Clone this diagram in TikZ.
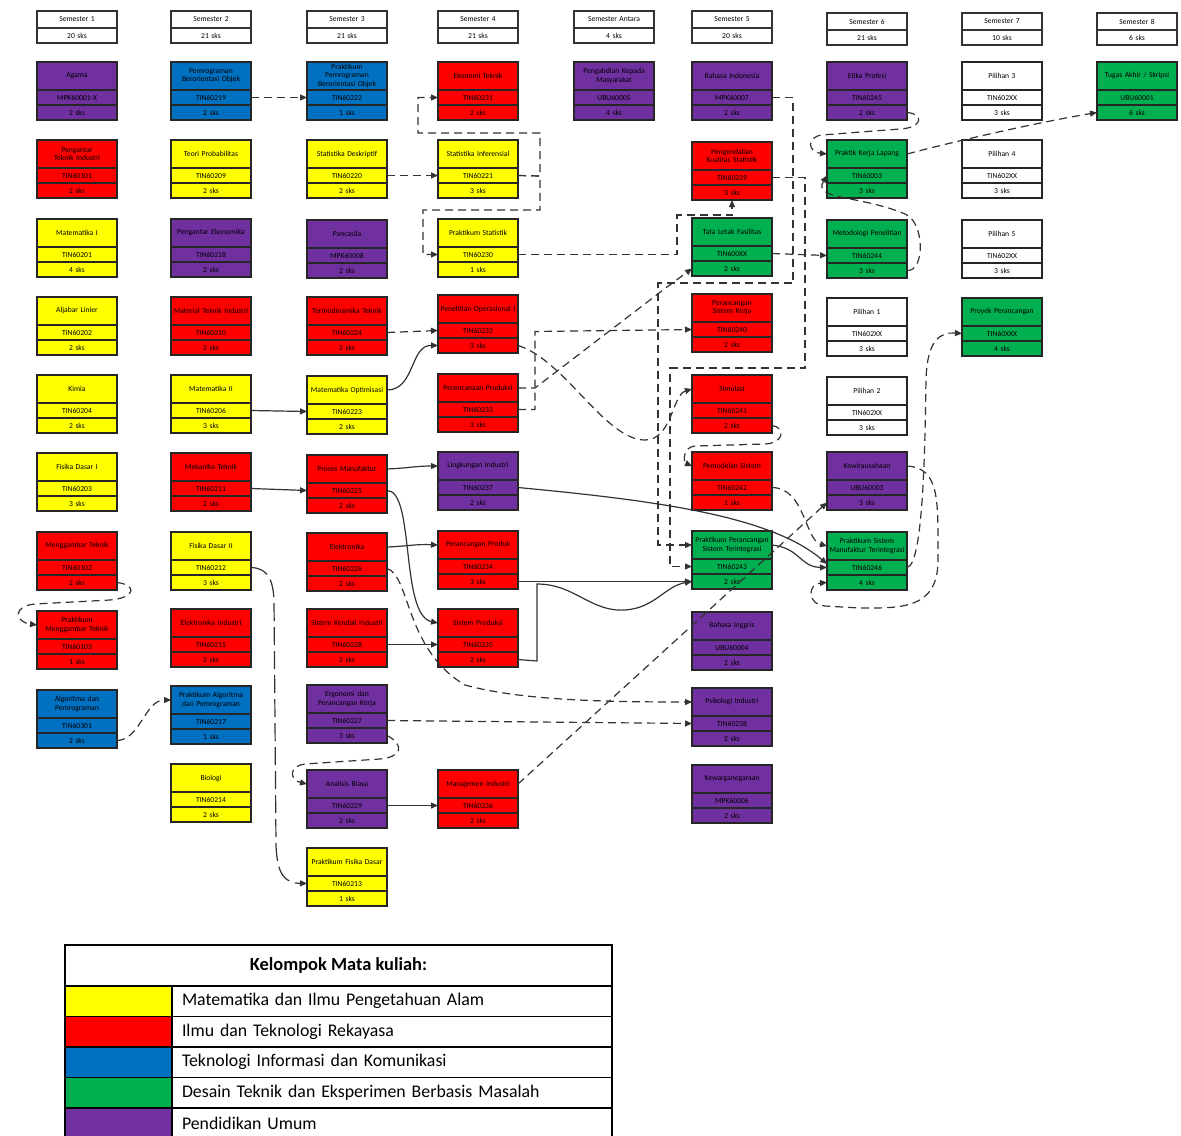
\documentclass[tikz,border=0pt]{standalone}
\usepackage{fontspec}
\setmainfont{Carlito}
\usetikzlibrary{arrows.meta}
\definecolor{cyel}{HTML}{FFFF00}
\definecolor{cred}{HTML}{FF0000}
\definecolor{cblu}{HTML}{0070C0}
\definecolor{cgrn}{HTML}{00B050}
\definecolor{cpur}{HTML}{7030A0}
\definecolor{cwht}{HTML}{FFFFFF}
\newcommand\nohyph{\hyphenpenalty 10000 \exhyphenpenalty 10000 }
\tikzset{
  part/.style={draw=black!85, line width=0.6pt, inner sep=0pt, outer sep=0pt,
    minimum width=40pt, text width=38pt, align=center,
    font={\fontsize{3.8}{4.2}\selectfont\nohyph}},
  ptitle/.style={part, minimum height=14pt},
  prow/.style={part, minimum height=7.5pt},
  hpart/.style={draw=black!80, line width=0.9pt, fill=white, inner sep=0pt, outer sep=0pt,
    minimum width=40pt, text width=38pt, align=center, font=\fontsize{3.8}{4.2}\selectfont},
  link/.style={draw=black!80, line width=0.6pt, -{Triangle[length=3.5pt,width=3pt]}},
  slink/.style={link},
  dlink/.style={link, dash pattern=on 4pt off 2.5pt},
  ldlink/.style={link, dash pattern=on 9pt off 3pt},
  lgcell/.style={draw=black, line width=0.8pt, inner sep=0pt, outer sep=0pt, anchor=north west},
}
\newcommand\course[7]{%
  \node[ptitle, fill=#4, anchor=north] (#1t) at (#2,#3) {#5};
  \node[prow, fill=#4, anchor=north] (#1c) at (#1t.south) {#6};
  \node[prow, fill=#4, anchor=north] (#1s) at (#1c.south) {#7};
}
\newcommand\semhead[5]{%
  \node[hpart, anchor=north, minimum height=8.5pt] (#1a) at (#2,#3) {#4};
  \node[hpart, anchor=north, minimum height=7.5pt] (#1b) at (#1a.south) {#5};
}
\begin{document}
\begin{tikzpicture}[x=0.5pt,y=-0.5pt]
\useasboundingbox (0,0) rectangle (1181,1135);
% headers
\semhead{h1}{77}{11}{Semester 1}{20 sks}
\semhead{h2}{211}{11}{Semester 2}{21 sks}
\semhead{h3}{347}{11}{Semester 3}{21 sks}
\semhead{h4}{478}{11}{Semester 4}{21 sks}
\semhead{h5}{614}{11}{Semester Antara}{4 sks}
\semhead{h6}{732}{11}{Semester 5}{20 sks}
\semhead{h7}{867}{13}{Semester 6}{21 sks}
\semhead{h8}{1002}{13}{Semester 7}{10 sks}
\semhead{h9}{1137}{13}{Semester 8}{6 sks}
% column 1
\course{p11}{77}{62}{cpur}{Agama}{MPK60001-X}{2 sks}
\course{p12}{77}{140}{cred}{Pengantar Teknik Industri}{TIN60101}{2 sks}
\course{p13}{77}{219}{cyel}{Matematika I}{TIN60201}{4 sks}
\course{p14}{77}{297}{cyel}{Aljabar Linier}{TIN60202}{2 sks}
\course{p15}{77}{375}{cyel}{Kimia}{TIN60204}{2 sks}
\course{p16}{77}{453}{cyel}{Fisika Dasar I}{TIN60203}{3 sks}
\course{p17}{77}{532}{cred}{Menggambar Teknik}{TIN60102}{2 sks}
\course{p18}{77}{611}{cred}{Praktikum Menggambar Teknik}{TIN60103}{1 sks}
\course{p19}{77}{690}{cblu}{Algoritma dan Pemrograman}{TIN60301}{2 sks}
% column 2
\course{p21}{211}{62}{cblu}{Pemrograman Berorientasi Objek}{TIN60219}{2 sks}
\course{p22}{211}{140}{cyel}{Teori Probabilitas}{TIN60209}{2 sks}
\course{p23}{211}{219}{cpur}{Pengantar Ekonomika}{TIN60218}{2 sks}
\course{p24}{211}{297}{cred}{Material Teknik Industri}{TIN60210}{2 sks}
\course{p25}{211}{375}{cyel}{Matematika II}{TIN60206}{3 sks}
\course{p26}{211}{453}{cred}{Mekanika Teknik}{TIN60211}{2 sks}
\course{p27}{211}{532}{cyel}{Fisika Dasar II}{TIN60212}{3 sks}
\course{p28}{211}{609}{cred}{Elektronika Industri}{TIN60215}{2 sks}
\course{p29}{211}{686}{cblu}{Praktikum Algoritma dan Pemrograman}{TIN60217}{1 sks}
\course{p2A}{211}{764}{cyel}{Biologi}{TIN60214}{2 sks}
% column 3
\course{p31}{347}{62}{cblu}{Praktikum Pemrograman Berorientasi Objek}{TIN60222}{1 sks}
\course{p32}{347}{140}{cyel}{Statistika Deskriptif}{TIN60220}{2 sks}
\course{p33}{347}{220}{cpur}{Pancasila}{MPK60008}{2 sks}
\course{p34}{347}{297}{cred}{Termodinamika Teknik}{TIN60224}{2 sks}
\course{p35}{347}{376}{cyel}{Matematika Optimisasi}{TIN60223}{2 sks}
\course{p36}{347}{455}{cred}{Proses Manufaktur}{TIN60225}{2 sks}
\course{p37}{347}{533}{cred}{Elektronika}{TIN60226}{2 sks}
\course{p38}{347}{609}{cred}{Sistem Kendali Industri}{TIN60228}{2 sks}
\course{p39}{347}{685}{cpur}{Ergonomi dan Perancangan Kerja}{TIN60227}{3 sks}
\course{p3A}{347}{770}{cpur}{Analisis Biaya}{TIN60229}{2 sks}
\course{p3B}{347}{848}{cyel}{Praktikum Fisika Dasar}{TIN60213}{1 sks}
% column 4
\course{p41}{478}{62}{cred}{Ekonomi Teknik}{TIN60231}{2 sks}
\course{p42}{478}{140}{cyel}{Statistika Inferensial}{TIN60221}{3 sks}
\course{p43}{478}{219}{cyel}{Praktikum Statistik}{TIN60230}{1 sks}
\course{p44}{478}{295}{cred}{Penelitian Operasional I}{TIN60232}{3 sks}
\course{p45}{478}{374}{cred}{Perencanaan Produksi}{TIN60233}{3 sks}
\course{p46}{478}{452}{cpur}{Lingkungan Industri}{TIN60237}{2 sks}
\course{p47}{478}{531}{cred}{Perancangan Produk}{TIN60234}{3 sks}
\course{p48}{478}{609}{cred}{Sistem Produksi}{TIN60235}{2 sks}
\course{p49}{478}{770}{cred}{Manajemen Industri}{TIN60236}{2 sks}
% column 5
\course{p51}{614}{62}{cpur}{Pengabdian Kepada Masyarakat}{UBU60005}{4 sks}
% column 6
\course{p61}{732}{62}{cpur}{Bahasa Indonesia}{MPK60007}{2 sks}
\course{p62}{732}{142}{cred}{Pengendalian Kualitas Statistik}{TIN60239}{3 sks}
\course{p63}{732}{218}{cgrn}{Tata Letak Fasilitas}{TIN600XX}{2 sks}
\course{p64}{732}{294}{cred}{Perancangan Sistem Kerja}{TIN60240}{2 sks}
\course{p65}{732}{375}{cred}{Simulasi}{TIN60241}{2 sks}
\course{p66}{732}{452}{cred}{Pemodelan Sistem}{TIN60242}{1 sks}
\course{p67}{732}{531}{cgrn}{Praktikum Perancangan Sistem Terintegrasi}{TIN60243}{2 sks}
\course{p68}{732}{612}{cpur}{Bahasa Inggris}{UBU60004}{2 sks}
\course{p69}{732}{688}{cpur}{Psikologi Industri}{TIN60238}{2 sks}
\course{p6A}{732}{765}{cpur}{Kewarganegaraan}{MPK60006}{2 sks}
% column 7
\course{p71}{867}{62}{cpur}{Etika Profesi}{TIN60245}{2 sks}
\course{p72}{867}{140}{cgrn}{Praktik Kerja Lapang}{TIN60003}{3 sks}
\course{p73}{867}{220}{cgrn}{Metodologi Penelitian}{TIN60244}{3 sks}
\course{p74}{867}{298}{cwht}{Pilihan 1}{TIN602XX}{3 sks}
\course{p75}{867}{377}{cwht}{Pilihan 2}{TIN602XX}{3 sks}
\course{p76}{867}{452}{cpur}{Kewirausahaan}{UBU60003}{3 sks}
\course{p77}{867}{532}{cgrn}{Praktikum Sistem Manufaktur Terintegrasi}{TIN60246}{4 sks}
% column 8
\course{p81}{1002}{62}{cwht}{Pilihan 3}{TIN602XX}{3 sks}
\course{p82}{1002}{140}{cwht}{Pilihan 4}{TIN602XX}{3 sks}
\course{p83}{1002}{220}{cwht}{Pilihan 5}{TIN602XX}{3 sks}
\course{p84}{1002}{298}{cgrn}{Proyek Perancangan}{TIN60XXX}{4 sks}
% column 9
\course{p91}{1137}{62}{cgrn}{Tugas Akhir / Skripsi}{UBU60001}{6 sks}

% ---------- solid connectors
\draw[slink] (p25c.east) -- (p35c.west);
\draw[slink] (p26c.east) -- (p36c.west);
\draw[slink] (p35t.east) .. controls (415,390) and (410,345) .. (p44s.west);
\draw[slink] (p36t.east) .. controls (410,468) and (415,466) .. (p46t.west);
\draw[slink] (p36c.east) .. controls (415,490) and (400,615) .. (p48t.west);
\draw[slink] (p37t.east) .. controls (410,546) and (415,544) .. (p47t.west);
\draw[slink] (p38c.east) -- (p48c.west);
\draw[slink] (p3Ac.east) -- (p49c.west);
\draw[slink] (p47s.east) -- (p67s.west);
\draw[slink] (p48s.east) -- (537,661) -- (537,584) .. controls (575,584) and (590,612) .. (625,610) .. controls (655,608) and (665,586) .. (p67s.west);
\draw[slink] (p46c.east) .. controls (650,500) and (770,515) .. ([yshift=-2pt]p77t.south west);
\draw[slink] (p67t.east) .. controls (800,548) and (800,567) .. (p77c.west);

% ---------- dashed connectors
\draw[dlink] (p21c.east) -- (p31c.west);
\draw[dlink] (p32c.east) -- (p42c.west);
\draw[dlink] (p42c.east) -- (540,176) -- (540,133) -- (418,133) -- (418,97.5) -- (p41c.west);
\draw[dlink] (p42c.east) -- (540,176) -- (540,210) -- (423,210) -- (423,254.5) -- (p43c.west);
\draw[dlink] (p43c.east) -- (677,254.5) -- (677,215) -- (732,215) -- (p62s.south);
\draw[dlink] (p34c.east) -- (p44c.west);
\draw[dlink] (p37c.east) .. controls (410,575) and (405,650) .. (465,685) .. controls (520,700) and (600,702) .. (p69t.west);
\draw[dlink] (p39c.east) -- (p69c.west);
\draw[dlink] (p39s.east) .. controls (405,745) and (402,757) .. (380,759) -- (305,764) .. controls (288,766) and (290,780) .. (p3At.west);
\draw[ldlink] (p27c.east) .. controls (268,568) and (273,580) .. (274,600) -- (276,845) .. controls (277,875) and (285,883) .. (p3Bc.west);
\draw[dlink] (p17s.east) .. controls (138,585) and (135,598) .. (110,600) -- (35,604) .. controls (12,606) and (15,622) .. (p18t.west);
\draw[dlink] (p19s.east) .. controls (140,740) and (145,700) .. (p29t.west);
\draw[dlink] (p61c.east) -- (793,97.5) -- (793,283) -- (658,283) -- (658,545) -- (p67t.west);
\draw[dlink] (p62c.east) -- (805,177.5) -- (805,368) -- (670,368) -- (670,566.5) -- (p67c.west);
\draw[dlink] (p63c.east) -- (p73c.west);
\draw[dlink] (p45t.east) -- (535,388) -- (663,290) -- (p63s.west);
\draw[dlink] (p45c.east) -- (535,409.5) -- (535,331.5) -- (p64c.west);
\draw[dlink] (p44s.east) .. controls (565,360) and (605,440) .. (645,440) .. controls (672,440) and (672,395) .. (p65t.west);
\draw[dlink] (p65s.east) .. controls (785,427) and (785,443) .. (765,444) -- (695,446) .. controls (683,447) and (683,462) .. (p66t.west);
\draw[dlink] (p66c.east) .. controls (805,488) and (805,540) .. (p77t.west);
\draw[dlink] (p49t.east) -- (p76s.west);
\draw[dlink] (p71s.east) .. controls (925,114) and (922,128) .. (900,129) -- (822,135) .. controls (806,137) and (808,152) .. (p72t.west);
\draw[dlink] (p73s.east) .. controls (925,272) and (925,222) .. (905,214) .. controls (860,195) and (812,200) .. (p72c.west);
\draw[dlink] (p72t.east) .. controls (960,140) and (1040,122) .. (p91s.west);
\draw[dlink] (p77c.east) .. controls (925,565) and (925,420) .. (926,380) .. controls (927,340) and (940,332) .. (p84c.west);
\draw[dlink] (p76t.east) .. controls (940,468) and (938,500) .. (938,560) .. controls (938,610) and (900,608) .. (860,608) -- (825,606) .. controls (806,604) and (808,584) .. (p77s.west);

% ---------- legend
\node[lgcell, minimum width=273.5pt, minimum height=20.5pt,
  font=\bfseries\fontsize{9.2}{10}\selectfont] (lgh) at (65,945) {Kelompok Mata kuliah:};
\foreach \i/\c/\t [count=\k] in {0/cyel/Matematika dan Ilmu Pengetahuan Alam,
    1/cred/Ilmu dan Teknologi Rekayasa,
    2/cblu/Teknologi Informasi dan Komunikasi,
    3/cgrn/Desain Teknik dan Eksperimen Berbasis Masalah,
    4/cpur/Pendidikan Umum} {
  \node[lgcell, fill=\c, minimum width=53.5pt, minimum height=15.25pt] (lgc\k) at (65,986+30.5*\i) {};
  \node[lgcell, minimum width=220pt, minimum height=15.25pt, inner xsep=5pt, text width=210pt, align=left,
    font=\fontsize{8.9}{9.5}\selectfont] (lgt\k) at (172,986+30.5*\i) {\t};
}
\end{tikzpicture}
\end{document}
